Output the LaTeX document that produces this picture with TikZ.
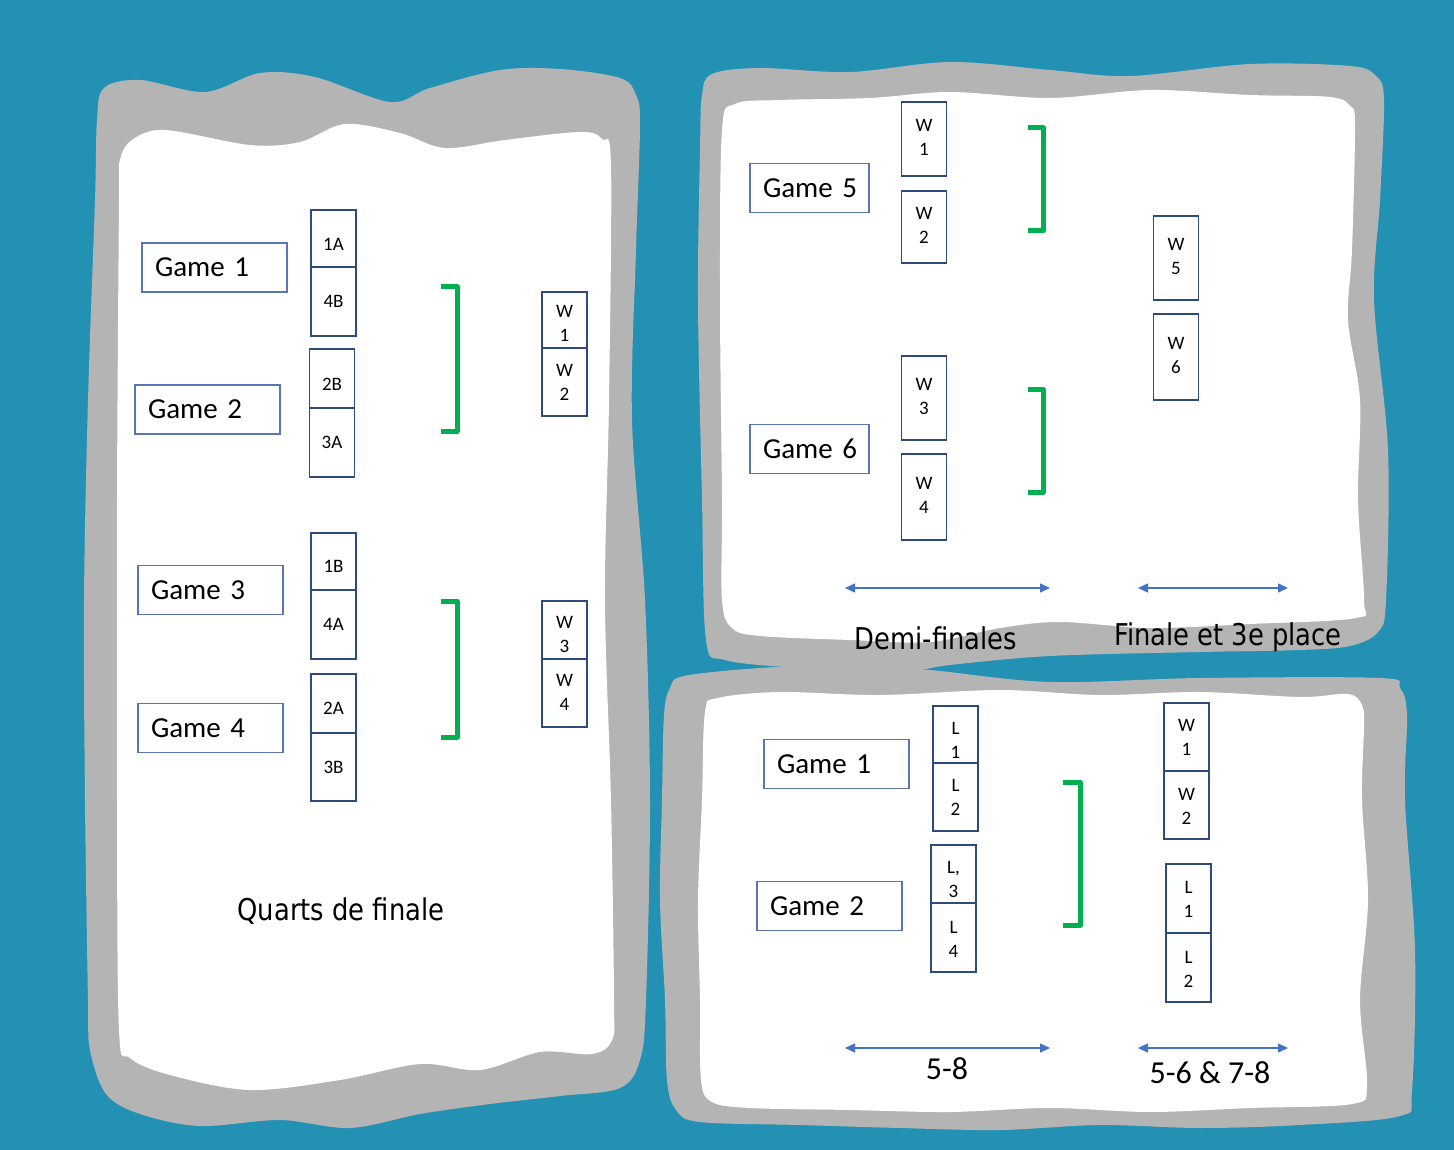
\documentclass[tikz,border=0pt]{standalone}
\usepackage{fontspec}
\setmainfont{Carlito}
\newfontfamily\tah[FakeStretch=0.86]{DejaVu Sans}
\usetikzlibrary{arrows.meta}
\definecolor{bgteal}{RGB}{35,145,179}
\definecolor{blobgray}{RGB}{180,180,180}
\definecolor{tbc}{RGB}{47,75,124}
\definecolor{gbc}{RGB}{90,117,176}
\definecolor{arrowblue}{RGB}{68,114,196}
\definecolor{brgreen}{RGB}{0,176,80}
% lowered content that keeps its size: \dn{shift}{text}
\newcommand{\dn}[2]{\raisebox{-#1}[\height][\depth]{#2}}
\newcommand{\twol}[3][0pt]{\dn{#1}{\begin{tabular}{@{}c@{}}#2\\#3\end{tabular}}}
\begin{document}
\begin{tikzpicture}[x=1pt,y=-1pt,
  gamebox/.style={draw=gbc, line width=1.2pt, inner xsep=13pt, inner ysep=0pt,
    text width=#1, minimum height=49pt, align=left,
    font=\fontsize{29}{35}\selectfont},
  tbox/.style={draw=tbc, line width=1.8pt, minimum width=45pt, minimum height=#1,
    inner sep=0pt, font=\fontsize{19}{24}\selectfont},
  bracketline/.style={draw=brgreen, line width=5pt, line join=round},
  spanarrow/.style={draw=arrowblue, line width=1.4pt,
    {Triangle[length=10pt,width=9pt]}-{Triangle[length=10pt,width=9pt]}},
  titletext/.style={inner sep=0pt, font=\tah\fontsize{30}{36}\selectfont},
  rangetext/.style={inner sep=0pt, font=\fontsize{32}{38}\selectfont}]
\useasboundingbox (0,0) rectangle (1454,1150);
\fill[bgteal] (0,0) rectangle (1454,1150);
% left panel
\fill[blobgray] plot[smooth cycle, tension=0.55] coordinates {
 (104,88) (140,80) (205,92) (260,73) (315,77) (390,102) (430,88) (500,70) (560,69) (620,78) (636,95) (640,125)
 (636,250) (632,420) (645,600) (650,800) (646,1000) (640,1060) (620,1088) (560,1096) (490,1104)
 (420,1114) (350,1128) (280,1120) (200,1126) (140,1114) (106,1094) (90,1050) (88,1000) (85,800) (84,600)
 (88,400) (95,200) (97,120)};
\fill[white] plot[smooth cycle, tension=0.55] coordinates {
 (132,140) (165,130) (250,145) (300,142) (345,124) (400,133) (445,148) (505,140) (580,132) (602,139)
 (611,165) (609,400) (605,600) (611,800) (614,1000) (612,1040) (592,1054) (540,1052) (480,1070)
 (420,1064) (340,1080) (250,1090) (170,1075) (130,1058) (119,1030) (117,800) (117,500) (119,200) (120,160)};
% upper right panel
\fill[blobgray] plot[smooth cycle, tension=0.55] coordinates {
 (712,74) (760,68) (850,72) (950,62) (1050,70) (1130,76) (1250,64) (1350,66) (1376,76) (1384,100)
 (1380,200) (1374,300) (1388,450) (1386,600) (1378,632) (1350,646) (1300,650) (1200,652) (1050,656)
 (950,665) (900,672) (800,668) (725,660) (706,640) (702,500) (698,300) (700,150) (702,95)};
\fill[white] plot[smooth cycle, tension=0.55] coordinates {
 (735,104) (780,100) (870,98) (950,92) (1050,98) (1150,90) (1250,95) (1330,97) (1350,106) (1355,125)
 (1352,250) (1348,320) (1360,400) (1358,500) (1364,600) (1356,618) (1250,624) (1150,628)
 (1060,622) (1000,628) (930,642) (850,640) (760,636) (732,628) (722,600) (722,500) (720,300) (722,130)};
% lower right panel
\fill[blobgray] plot[smooth cycle, tension=0.55] coordinates {
 (684,676) (760,668) (850,665) (930,670) (1050,682) (1200,678) (1380,678) (1400,688) (1407,715)
 (1405,800) (1415,950) (1412,1090) (1400,1116) (1300,1125) (1200,1128) (1100,1125)
 (1000,1130) (900,1128) (800,1125) (700,1122) (676,1110) (667,1080) (665,1000) (660,900) (662,800) (664,715) (670,688)};
\fill[white] plot[smooth cycle, tension=0.55] coordinates {
 (718,698) (780,692) (880,695) (1000,690) (1100,695) (1200,692) (1300,697) (1348,694) (1362,705) (1364,725)
 (1362,800) (1368,900) (1360,1000) (1367,1085) (1352,1104) (1250,1108) (1150,1112) (1050,1108)
 (950,1112) (850,1110) (750,1108) (712,1102) (701,1080) (700,1000) (698,900) (702,800) (705,712)};

% ---------- Quarts de finale ----------
\node[gamebox=119pt] (g1) at (214.5,267.5) {\mbox{Game 1}};
\node[gamebox=119pt] (g2) at (207.5,409.5) {\mbox{Game 2}};
\node[gamebox=119pt] (g3) at (210.5,590) {\mbox{Game 3}};
\node[gamebox=119pt] (g4) at (210.5,728) {\mbox{Game 4}};
\node[tbox=57pt] (t1A) at (333.5,238.5) {\dn{6pt}{1A}};
\node[tbox=69pt] (t4B) at (333.5,301.5) {4B};
\node[tbox=59pt] (t2B) at (332,378.5) {\dn{6pt}{2B}};
\node[tbox=69pt] (t3A) at (332,442.5) {3A};
\node[tbox=57pt] (t1B) at (333.5,561.5) {\dn{5pt}{1B}};
\node[tbox=69pt] (t4A) at (333.5,624.5) {4A};
\node[tbox=59pt] (t2A) at (333.5,703.5) {\dn{5pt}{2A}};
\node[tbox=68pt] (t3B) at (333.5,767) {3B};
\node[tbox=56pt] (qW1) at (564.5,320) {\twol[5pt]{W}{1}};
\node[tbox=68pt] (qW2) at (564.5,382) {\twol[2pt]{W}{2}};
\node[tbox=58pt] (qW3) at (564.5,630) {\twol[6pt]{W}{3}};
\node[tbox=68pt] (qW4) at (564.5,693) {\twol[1pt]{W}{4}};
\coordinate (qa1) at (441,287); \coordinate (qa2) at (457,287);
\coordinate (qa3) at (457,431); \coordinate (qa4) at (441,431);
\draw[bracketline] (qa1) -- (qa2) -- (qa3) -- (qa4);
\coordinate (qb1) at (441,601); \coordinate (qb2) at (457,601);
\coordinate (qb3) at (457,737); \coordinate (qb4) at (441,737);
\draw[bracketline] (qb1) -- (qb2) -- (qb3) -- (qb4);
\node[titletext] (qtitle) at (341,911) {Quarts de finale};

% ---------- Demi-finales ----------
\node[gamebox=93pt] (g5) at (809.5,188) {\mbox{Game 5}};
\node[gamebox=93pt] (g6) at (809.5,449) {\mbox{Game 6}};
\node[tbox=74pt] (sW1) at (924,139) {\twol{W}{1}};
\node[tbox=72pt] (sW2) at (924,227) {\twol{W}{2}};
\node[tbox=84pt] (sW3) at (924,398) {\twol{W}{3}};
\node[tbox=86pt] (sW4) at (924,497) {\twol{W}{4}};
\coordinate (sa1) at (1028,128); \coordinate (sa2) at (1043,128);
\coordinate (sa3) at (1043,231); \coordinate (sa4) at (1028,231);
\draw[bracketline] (sa1) -- (sa2) -- (sa3) -- (sa4);
\coordinate (sb1) at (1028,389); \coordinate (sb2) at (1043,389);
\coordinate (sb3) at (1043,492); \coordinate (sb4) at (1028,492);
\draw[bracketline] (sb1) -- (sb2) -- (sb3) -- (sb4);
\node[tbox=84pt] (fW5) at (1176,258) {\twol{W}{5}};
\node[tbox=86pt] (fW6) at (1176,357) {\twol{W}{6}};
\coordinate (sl1) at (845,588); \coordinate (sl2) at (1050,588);
\draw[spanarrow] (sl1) -- (sl2);
\coordinate (sr1) at (1138,588); \coordinate (sr2) at (1288,588);
\draw[spanarrow] (sr1) -- (sr2);
\node[titletext] (stitle) at (936,638) {Demi-finales};
\node[titletext] (ftitle) at (1228,637) {Finale et 3e place};

% ---------- 5-8 ----------
\node[gamebox=119pt] (h1) at (836.5,764) {\mbox{Game 1}};
\node[gamebox=119pt] (h2) at (829.5,906) {\mbox{Game 2}};
\node[tbox=57pt] (L1) at (955.5,734.5) {\twol[7pt]{L}{1}};
\node[tbox=68pt] (L2) at (955.5,797) {\twol[2pt]{L}{2}};
\node[tbox=58pt] (L3) at (953.5,874) {\twol[7pt]{L,}{3}};
\node[tbox=69pt] (L4) at (953.5,937.5) {\twol[3pt]{L}{4}};
\coordinate (ha1) at (1063,782); \coordinate (ha2) at (1080,782);
\coordinate (ha3) at (1080,925); \coordinate (ha4) at (1063,925);
\draw[bracketline] (ha1) -- (ha2) -- (ha3) -- (ha4);
\node[tbox=68pt] (cW1) at (1186.5,737) {\twol[2pt]{W}{1}};
\node[tbox=68pt] (cW2) at (1186.5,805) {\twol[3pt]{W}{2}};
\node[tbox=69pt] (cL1) at (1188.5,898.5) {\twol[2pt]{L}{1}};
\node[tbox=69pt] (cL2) at (1188.5,967.5) {\twol[3pt]{L}{2}};
\coordinate (hl1) at (845,1048); \coordinate (hl2) at (1050,1048);
\draw[spanarrow] (hl1) -- (hl2);
\coordinate (hr1) at (1138,1048); \coordinate (hr2) at (1288,1048);
\draw[spanarrow] (hr1) -- (hr2);
\node[rangetext] (r58) at (947,1069) {5-8};
\node[rangetext] (r5678) at (1210,1073) {5-6 \& 7-8};
\end{tikzpicture}
\end{document}
